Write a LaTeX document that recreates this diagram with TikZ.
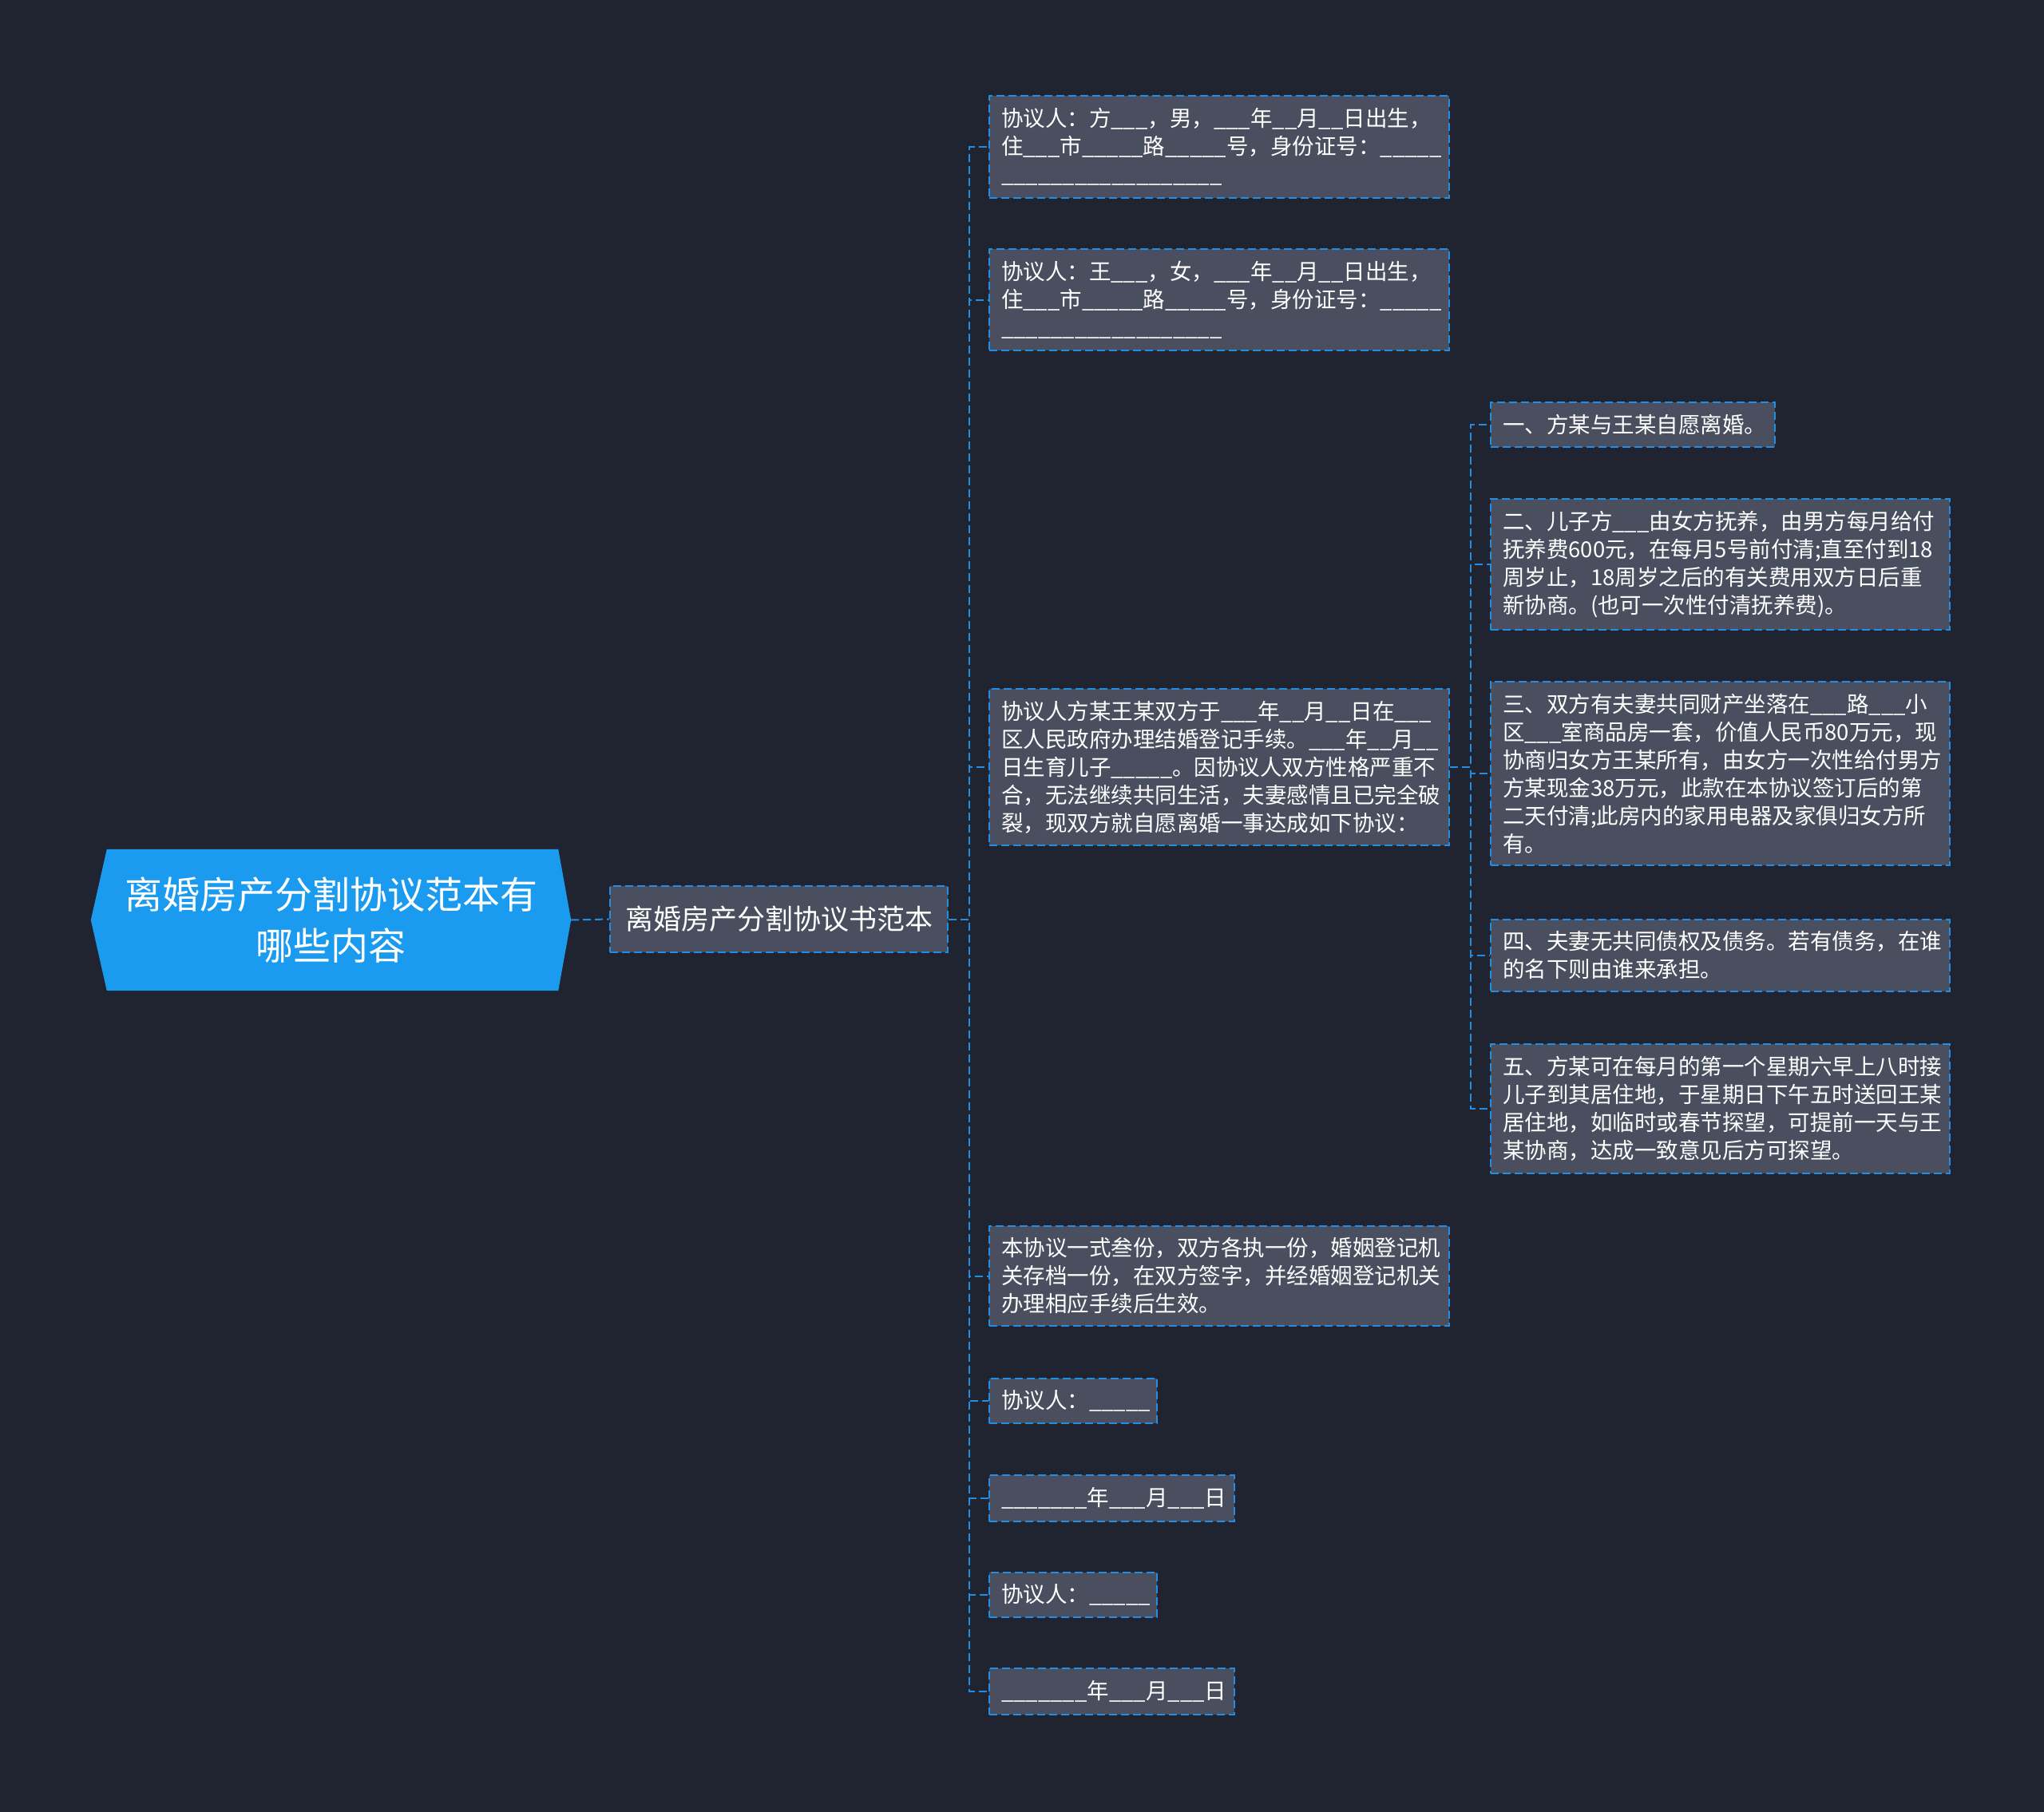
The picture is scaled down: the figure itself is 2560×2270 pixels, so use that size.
\documentclass[tikz,border=0pt]{standalone}
\usepackage{fontspec}
\setmainfont{Noto Sans CJK SC}
\usetikzlibrary{backgrounds}

\definecolor{bgdark}{RGB}{32,36,48}
\definecolor{boxgray}{RGB}{73,79,95}
\definecolor{linkblue}{RGB}{33,142,230}
\definecolor{rootblue}{RGB}{26,155,240}

\tikzset{
  box/.style={draw=linkblue, fill=boxgray, line width=2pt, dash pattern=on 10pt off 5pt, text=white},
  leaf/.style={box, anchor=west, align=left, font=\fontsize{27.5}{35}\selectfont, inner xsep=15pt, inner ysep=15pt},
  subbox/.style={box, font=\fontsize{35}{44}\selectfont, minimum width=423pt, minimum height=83pt, inner sep=0pt},
  roottext/.style={text=white, align=center, font=\fontsize{47}{64}\selectfont, minimum width=601pt, minimum height=177pt, inner sep=0pt},
  link/.style={linkblue, line width=2pt, dash pattern=on 10pt off 5pt},
}

\begin{document}
\begin{tikzpicture}[x=1pt,y=-1pt]
\useasboundingbox (0,0) rectangle (2560,2270);

\node[roottext] (root) at (414.5,1152.5) {离婚房产分割协议范本有\\哪些内容};
\node[subbox] (sub) at (975.5,1151.5) {离婚房产分割协议书范本};

% second level
\node[leaf, text width=546pt] (p1) at (1238,184) {协议人：方\_\_\_，男，\_\_\_年\_\_月\_\_日出生，\\住\_\_\_市\_\_\_\_\_路\_\_\_\_\_号，身份证号：\_\_\_\_\_\\\_\_\_\_\_\_\_\_\_\_\_\_\_\_\_\_\_\_};
\node[leaf, text width=546pt] (p2) at (1238,375.5) {协议人：王\_\_\_，女，\_\_\_年\_\_月\_\_日出生，\\住\_\_\_市\_\_\_\_\_路\_\_\_\_\_号，身份证号：\_\_\_\_\_\\\_\_\_\_\_\_\_\_\_\_\_\_\_\_\_\_\_\_};
\node[leaf, text width=546pt] (p3) at (1238,961) {协议人方某王某双方于\_\_\_年\_\_月\_\_日在\_\_\_\\区人民政府办理结婚登记手续。\_\_\_年\_\_月\_\_\\日生育儿子\_\_\_\_\_。因协议人双方性格严重不\\合，无法继续共同生活，夫妻感情且已完全破\\裂，现双方就自愿离婚一事达成如下协议：};
\node[leaf, text width=546pt] (p4) at (1238,1598.5) {本协议一式叁份，双方各执一份，婚姻登记机\\关存档一份，在双方签字，并经婚姻登记机关\\办理相应手续后生效。};
\node[leaf, text width=180pt] (p5) at (1238,1755) {协议人：\_\_\_\_\_};
\node[leaf, text width=277pt] (p6) at (1238,1877) {\_\_\_\_\_\_\_年\_\_\_月\_\_\_日};
\node[leaf, text width=180pt] (p7) at (1238,1998) {协议人：\_\_\_\_\_};
\node[leaf, text width=277pt] (p8) at (1238,2119) {\_\_\_\_\_\_\_年\_\_\_月\_\_\_日};

% third level
\node[leaf, text width=326pt] (q1) at (1866,532) {一、方某与王某自愿离婚。};
\node[leaf, text width=545pt] (q2) at (1866,707) {二、儿子方\_\_\_由女方抚养，由男方每月给付\\抚养费600元，在每月5号前付清;直至付到18\\周岁止，18周岁之后的有关费用双方日后重\\新协商。(也可一次性付清抚养费)。};
\node[leaf, text width=545pt] (q3) at (1866,969) {三、双方有夫妻共同财产坐落在\_\_\_路\_\_\_小\\区\_\_\_室商品房一套，价值人民币80万元，现\\协商归女方王某所有，由女方一次性给付男方\\方某现金38万元，此款在本协议签订后的第\\二天付清;此房内的家用电器及家俱归女方所\\有。};
\node[leaf, text width=545pt] (q4) at (1866,1197) {四、夫妻无共同债权及债务。若有债务，在谁\\的名下则由谁来承担。};
\node[leaf, text width=545pt] (q5) at (1866,1389) {五、方某可在每月的第一个星期六早上八时接\\儿子到其居住地，于星期日下午五时送回王某\\居住地，如临时或春节探望，可提前一天与王\\某协商，达成一致意见后方可探望。};

% connectors
\draw[link] (root.east) -- (sub.west);
\foreach \n in {p1,p2,p3,p4,p5,p6,p7,p8}
  \draw[link] (sub.east) -- ++(26,0) |- (\n.west);
\foreach \n in {q1,q2,q3,q4,q5}
  \draw[link] (p3.east) -- ++(26,0) |- (\n.west);

\begin{scope}[on background layer]
  \fill[bgdark] (0,0) rectangle (2560,2270);
  \fill[rootblue] (root.west) -- ([xshift=20pt]root.north west) -- ([xshift=-16pt]root.north east)
    -- (root.east) -- ([xshift=-16pt]root.south east) -- ([xshift=20pt]root.south west) -- cycle;
\end{scope}
\end{tikzpicture}
\end{document}
